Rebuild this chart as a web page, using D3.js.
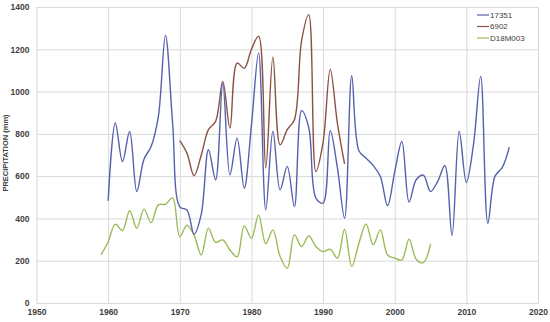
<!DOCTYPE html>
<html>
<head>
<meta charset="utf-8">
<script src="https://cdn.jsdelivr.net/npm/d3@7"></script>
<style>
  body { margin: 0; background: #fff; }
  .tick text { font-family: "Liberation Sans", Arial, sans-serif; font-size: 8.5px; fill: #404040; font-weight: bold; }
  .grid line { stroke: #d9d9d9; stroke-width: 1; }
  .grid path { display: none; }
</style>
</head>
<body>
<div id="chart"></div>
<script>
// station 17351
var years17351 = d3.range(1960, 2017);
var values17351 = [483, 851, 669, 811, 527, 680, 740, 880, 1266, 850,
  455, 440, 325, 420, 725, 583, 1040, 606, 780, 543,
  840, 1183, 440, 812, 535, 646, 456, 910, 830, 496,
  472, 815, 640, 401, 1075, 720, 685, 650, 598, 460,
  620, 764, 478, 583, 605, 527, 575, 650, 319, 812,
  570, 750, 1072, 377, 600, 640, 737];

// station 6902
var years6902 = d3.range(1970, 1994);
var values6902 = [768, 709, 602, 700, 820, 859, 1048, 827, 1135, 1110,
  1200, 1262, 638, 1164, 748, 820, 867, 1240, 1364, 622,
  760, 1105, 850, 658];

// station D18M003
var yearsD18 = d3.range(1959, 2006);
var valuesD18 = [227, 290, 373, 343, 436, 354, 444, 380, 464, 467,
  497, 314, 368, 320, 227, 354, 287, 298, 251, 218,
  365, 306, 417, 280, 346, 220, 164, 322, 267, 317,
  267, 243, 254, 212, 349, 172, 283, 374, 275, 346,
  227, 212, 204, 302, 207, 191, 280];

var xTicks = [1950, 1960, 1970, 1980, 1990, 2000, 2010, 2020];
var yTicks = [0, 200, 400, 600, 800, 1000, 1200, 1400];

var seriesNames = ["17351", "6902", "D18M003"];
var seriesColors = ["#5661ad", "#8a5244", "#9bbb59"];

var margin = {top: 7, right: 12, bottom: 19, left: 36.5},
    width = 550 - margin.left - margin.right,
    height = 322 - margin.top - margin.bottom;

var x = d3.scaleLinear().domain([1950, 2020]).range([0, width]);
var y = d3.scaleLinear().domain([0, 1400]).range([height, 0]);

var svg = d3.select("#chart").append("svg")
    .attr("width", 550)
    .attr("height", 322)
    .append("g")
    .attr("transform", "translate(" + margin.left + "," + margin.top + ")");

// gridlines
svg.append("g")
    .attr("class", "grid")
    .call(d3.axisLeft(y).tickValues(yTicks).tickSize(-width).tickFormat(""));
svg.append("g")
    .attr("class", "grid")
    .attr("transform", "translate(0," + height + ")")
    .call(d3.axisBottom(x).tickValues(xTicks).tickSize(-height).tickFormat(""));

// axes labels
var yAxis = svg.append("g")
    .call(d3.axisLeft(y).tickValues(yTicks).tickSize(0).tickPadding(7).tickFormat(d3.format("d")));
yAxis.select(".domain").remove();

var xAxis = svg.append("g")
    .attr("transform", "translate(0," + height + ")")
    .call(d3.axisBottom(x).tickValues(xTicks).tickSize(0).tickPadding(6).tickFormat(d3.format("d")));
xAxis.select(".domain").attr("stroke", "#d9d9d9");

svg.append("text")
    .attr("transform", "rotate(-90)")
    .attr("x", -height / 2 + 2)
    .attr("y", -29)
    .style("text-anchor", "middle")
    .style("font-family", "Liberation Sans, Arial, sans-serif")
    .style("font-size", "7.5px")
    .style("font-weight", "bold")
    .style("fill", "#404040")
    .text("PRECIPITATION (mm)");

var line = d3.line()
    .curve(d3.curveCatmullRom.alpha(0.5))
    .x(function(d) { return x(d[0]); })
    .y(function(d) { return y(d[1]); });

var allSeries = [
  d3.zip(years17351, values17351),
  d3.zip(years6902, values6902),
  d3.zip(yearsD18, valuesD18)
];

// draw green first, then brown, then blue on top
[2, 1, 0].forEach(function(i) {
  svg.append("path")
      .datum(allSeries[i])
      .attr("fill", "none")
      .attr("stroke", seriesColors[i])
      .attr("stroke-width", 1.4)
      .attr("d", line);
});

// legend
var legend = svg.append("g")
    .attr("transform", "translate(" + (477 - margin.left) + "," + (15 - margin.top) + ")");

seriesNames.forEach(function(name, i) {
  var g = legend.append("g").attr("transform", "translate(0," + (i * 11.5) + ")");
  g.append("line")
      .attr("x1", 0).attr("x2", 12)
      .attr("stroke", seriesColors[i])
      .attr("stroke-width", 1.2);
  g.append("text")
      .attr("x", 13)
      .attr("dy", "0.35em")
      .style("font-family", "Liberation Sans, Arial, sans-serif")
      .style("font-size", "8px")
      .style("fill", "#404040")
      .text(name);
});
</script>
</body>
</html>
